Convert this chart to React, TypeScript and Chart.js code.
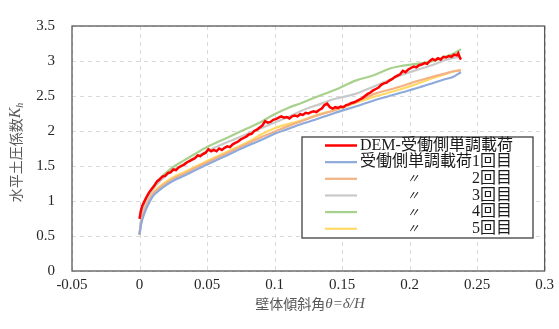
import React, { useEffect, useRef } from "react";
import { Chart, registerables } from "chart.js";

Chart.register(...registerables);

// ---- data ----
const demX = [0, 0.001, 0.002, 0.003, 0.005, 0.007, 0.009, 0.011, 0.013, 0.015, 0.017, 0.019, 0.021, 0.023, 0.025, 0.027, 0.029, 0.031, 0.033, 0.035, 0.037, 0.039, 0.041, 0.043, 0.045, 0.047, 0.049, 0.051, 0.053, 0.055, 0.057, 0.059, 0.061, 0.063, 0.065, 0.067, 0.069, 0.071, 0.073, 0.075, 0.077, 0.079, 0.081, 0.083, 0.085, 0.087, 0.089, 0.091, 0.093, 0.095, 0.097, 0.099, 0.101, 0.103, 0.105, 0.107, 0.109, 0.111, 0.113, 0.115, 0.117, 0.119, 0.121, 0.123, 0.125, 0.127, 0.129, 0.131, 0.133, 0.135, 0.137, 0.139, 0.141, 0.143, 0.145, 0.147, 0.149, 0.151, 0.153, 0.155, 0.157, 0.159, 0.161, 0.163, 0.165, 0.167, 0.169, 0.171, 0.173, 0.175, 0.177, 0.179, 0.181, 0.183, 0.185, 0.187, 0.189, 0.191, 0.193, 0.195, 0.197, 0.199, 0.201, 0.203, 0.205, 0.207, 0.209, 0.211, 0.213, 0.215, 0.217, 0.219, 0.221, 0.223, 0.225, 0.227, 0.229, 0.231, 0.233, 0.235, 0.236, 0.237, 0.238];
const demY = [0.745, 0.86, 0.93, 0.97, 1.05, 1.12, 1.17, 1.22, 1.28, 1.31, 1.35, 1.36, 1.40, 1.41, 1.45, 1.44, 1.48, 1.50, 1.52, 1.55, 1.57, 1.59, 1.61, 1.65, 1.64, 1.67, 1.69, 1.74, 1.71, 1.73, 1.71, 1.75, 1.73, 1.76, 1.78, 1.77, 1.81, 1.83, 1.85, 1.88, 1.90, 1.92, 1.95, 1.96, 2.00, 2.02, 2.05, 2.08, 2.14, 2.12, 2.13, 2.16, 2.17, 2.19, 2.21, 2.19, 2.20, 2.18, 2.21, 2.22, 2.21, 2.24, 2.23, 2.26, 2.25, 2.27, 2.28, 2.27, 2.30, 2.32, 2.37, 2.39, 2.34, 2.32, 2.34, 2.33, 2.35, 2.34, 2.37, 2.38, 2.40, 2.41, 2.43, 2.45, 2.47, 2.50, 2.53, 2.55, 2.58, 2.60, 2.62, 2.66, 2.68, 2.69, 2.72, 2.74, 2.77, 2.79, 2.81, 2.86, 2.84, 2.88, 2.90, 2.92, 2.91, 2.94, 2.95, 2.97, 2.96, 3.00, 3.03, 3.01, 3.04, 3.02, 3.06, 3.05, 3.07, 3.06, 3.09, 3.08, 3.11, 3.06, 3.02];

const expX = [0, 0.001, 0.003, 0.006, 0.010, 0.015, 0.020, 0.026, 0.033, 0.040, 0.050, 0.060, 0.070, 0.080, 0.090, 0.100, 0.110, 0.120, 0.130, 0.145, 0.160, 0.174, 0.185, 0.194, 0.205, 0.218, 0.226, 0.232, 0.238];
const run1Y = [0.52, 0.65, 0.79, 0.93, 1.07, 1.16, 1.23, 1.30, 1.36, 1.43, 1.52, 1.61, 1.70, 1.79, 1.87, 1.96, 2.03, 2.10, 2.16, 2.26, 2.35, 2.44, 2.50, 2.55, 2.61, 2.69, 2.74, 2.77, 2.84];
const run2Y = [0.52, 0.67, 0.82, 0.96, 1.10, 1.19, 1.26, 1.33, 1.39, 1.46, 1.55, 1.64, 1.73, 1.82, 1.91, 1.99, 2.07, 2.14, 2.21, 2.30, 2.41, 2.53, 2.59, 2.64, 2.71, 2.78, 2.82, 2.85, 2.87];
const run3Y = [0.52, 0.70, 0.88, 1.03, 1.17, 1.28, 1.37, 1.45, 1.53, 1.61, 1.71, 1.80, 1.88, 1.96, 2.04, 2.12, 2.20, 2.29, 2.36, 2.46, 2.53, 2.64, 2.73, 2.80, 2.87, 2.95, 3.01, 3.04, 3.06];
const run4Y = [0.52, 0.71, 0.90, 1.06, 1.20, 1.32, 1.41, 1.50, 1.58, 1.66, 1.77, 1.86, 1.95, 2.04, 2.13, 2.24, 2.33, 2.40, 2.48, 2.59, 2.72, 2.80, 2.89, 2.93, 2.96, 3.00, 3.06, 3.10, 3.17];
const run5Y = [0.52, 0.68, 0.84, 0.98, 1.12, 1.21, 1.28, 1.35, 1.41, 1.48, 1.57, 1.66, 1.75, 1.84, 1.95, 2.04, 2.10, 2.15, 2.22, 2.30, 2.40, 2.49, 2.55, 2.60, 2.67, 2.76, 2.81, 2.85, 2.87];

const seriesNames = ["DEM-受働側単調載荷", "受働側単調載荷1回目", "2回目", "3回目", "4回目", "5回目"];
const dittoMark = "〃";
const xTitleMain = "壁体傾斜角";
const xTitleItalic = "θ=δ/H";
const yTitleMain = "水平土圧係数";
const yTitleItalic = "K";
const yTitleSub = "h";

const colors = ["#ff0000", "#8eaadb", "#f4b183", "#c9c9c9", "#a9d18e", "#ffd966"];

const SERIF = '"Liberation Serif", "Noto Sans CJK JP", serif';
const CJK = '"Noto Sans CJK JP", sans-serif';

const toPts = (xs: number[], ys: number[]) => xs.map((x, i) => ({ x, y: ys[i] }));

const gridPlugin = {
  id: "dashGrid",
  beforeDatasetsDraw(chart: any) {
    const { ctx, chartArea: a, scales } = chart;
    ctx.save();
    ctx.strokeStyle = "#d9d9d9";
    ctx.lineWidth = 1;
    ctx.setLineDash([4, 4]);
    scales.x.ticks.forEach((t: any) => {
      const px = Math.round(scales.x.getPixelForValue(t.value)) + 0.5;
      ctx.beginPath();
      ctx.moveTo(px, a.top);
      ctx.lineTo(px, a.bottom);
      ctx.stroke();
    });
    scales.y.ticks.forEach((t: any) => {
      const py = Math.round(scales.y.getPixelForValue(t.value)) + 0.5;
      ctx.beginPath();
      ctx.moveTo(a.left, py);
      ctx.lineTo(a.right, py);
      ctx.stroke();
    });
    ctx.restore();
  },
};

const framePlugin = {
  id: "frame",
  afterDatasetsDraw(chart: any) {
    const { ctx, chartArea: a } = chart;
    ctx.save();
    ctx.strokeStyle = "#595959";
    ctx.lineWidth = 1.3;
    ctx.strokeRect(a.left, a.top, a.right - a.left, a.bottom - a.top);
    ctx.restore();
  },
};

const titlesPlugin = {
  id: "axisTitles",
  afterDraw(chart: any) {
    const { ctx, chartArea: a } = chart;
    ctx.save();
    ctx.fillStyle = "#595959";
    ctx.textBaseline = "middle";
    const mainFont = `14px ${CJK}`;
    const itFont = `italic 15px ${SERIF}`;
    ctx.font = mainFont;
    const w1 = ctx.measureText(xTitleMain).width;
    ctx.font = itFont;
    const w2 = ctx.measureText(xTitleItalic).width;
    const cx = 310;
    const ty = 304;
    const x0 = cx - (w1 + w2) / 2;
    ctx.textAlign = "left";
    ctx.font = mainFont;
    ctx.fillText(xTitleMain, x0, ty);
    ctx.font = itFont;
    ctx.fillText(xTitleItalic, x0 + w1, ty);
    ctx.translate(16, (a.top + a.bottom) / 2 + 4);
    ctx.rotate(-Math.PI / 2);
    ctx.font = mainFont;
    const y1 = ctx.measureText(yTitleMain).width;
    ctx.font = `italic 16px ${SERIF}`;
    const y2 = ctx.measureText(yTitleItalic).width;
    ctx.font = `italic 10px ${SERIF}`;
    const y3 = ctx.measureText(yTitleSub).width;
    const s = -(y1 + y2 + y3) / 2;
    ctx.font = mainFont;
    ctx.fillText(yTitleMain, s, 0);
    ctx.font = `italic 16px ${SERIF}`;
    ctx.fillText(yTitleItalic, s + y1, 0);
    ctx.font = `italic 10px ${SERIF}`;
    ctx.fillText(yTitleSub, s + y1 + y2, 4);
    ctx.restore();
  },
};

const legendPlugin = {
  id: "boxLegend",
  afterDraw(chart: any) {
    const { ctx } = chart;
    const bx = 302, by = 137, bw = 231, bh = 101;
    ctx.save();
    ctx.fillStyle = "#ffffff";
    ctx.fillRect(bx, by, bw, bh);
    ctx.strokeStyle = "#404040";
    ctx.lineWidth = 1.3;
    ctx.strokeRect(bx, by, bw, bh);
    const rowY0 = 145.5;
    const rowH = 16.65;
    const font = `16px ${SERIF}`;
    ctx.font = font;
    const textX = 360;
    const row2W = ctx.measureText(seriesNames[1]).width;
    chart.data.datasets.forEach((ds: any, i: number) => {
      const y = rowY0 + i * rowH;
      ctx.strokeStyle = ds.borderColor;
      ctx.lineWidth = i === 0 ? 2.5 : 2.2;
      ctx.beginPath();
      ctx.moveTo(325, y);
      ctx.lineTo(357, y);
      ctx.stroke();
      ctx.fillStyle = "#1a1a1a";
      ctx.textBaseline = "middle";
      ctx.font = font;
      if (i < 2) {
        ctx.textAlign = "left";
        ctx.fillText(seriesNames[i], textX, y);
      } else {
        ctx.textAlign = "center";
        ctx.font = `italic 13px ${SERIF}`;
        ctx.fillText(dittoMark, 413, y + 1);
        ctx.font = font;
        ctx.textAlign = "right";
        ctx.fillText(seriesNames[i], textX + row2W, y);
      }
    });
    ctx.restore();
  },
};

export default function App() {
  const ref = useRef<HTMLCanvasElement | null>(null);
  useEffect(() => {
    if (!ref.current) return;
    const ys = [run1Y, run2Y, run3Y, run4Y, run5Y];
    const datasets: any[] = [
      {
        label: seriesNames[0],
        data: toPts(demX, demY),
        borderColor: colors[0],
        borderWidth: 2.5,
      },
      ...ys.map((y, i) => ({
        label: i === 0 ? seriesNames[1] : dittoMark + " " + seriesNames[i + 1],
        data: toPts(expX, y),
        borderColor: colors[i + 1],
        borderWidth: 2.2,
        cubicInterpolationMode: "monotone",
      })),
    ].map((d) => ({ ...d, pointRadius: 0, fill: false, tension: 0 }));
    const tickFont = { family: SERIF, size: 15 };
    const chart = new Chart(ref.current, {
      type: "line",
      data: { datasets },
      options: {
        animation: false,
        responsive: true,
        maintainAspectRatio: false,
        layout: { padding: { left: 0, right: 12, top: 16, bottom: 0 } },
        plugins: { legend: { display: false }, tooltip: { enabled: false } },
        scales: {
          x: {
            type: "linear",
            min: -0.05,
            max: 0.3,
            ticks: {
              stepSize: 0.05,
              autoSkip: false,
              maxRotation: 0,
              font: tickFont,
              color: "#262626",
              padding: 5,
              callback: (v: any) => String(Number(Number(v).toFixed(2))),
            },
            grid: { display: false, drawTicks: false },
            border: { display: false },
            afterFit: (s: any) => {
              s.height = 58;
            },
          },
          y: {
            type: "linear",
            min: 0,
            max: 3.5,
            ticks: {
              stepSize: 0.5,
              font: tickFont,
              color: "#262626",
              padding: 17,
              callback: (v: any) => String(Number(Number(v).toFixed(1))),
            },
            grid: { display: false, drawTicks: false },
            border: { display: false },
            afterFit: (s: any) => {
              s.width = 72;
            },
          },
        },
      } as any,
      plugins: [gridPlugin, framePlugin, titlesPlugin, legendPlugin],
    });
    return () => chart.destroy();
  }, []);
  return (
    <div style={{ position: "absolute", left: 0, top: 0, width: 559, height: 329, background: "#fff" }}>
      <canvas ref={ref} />
    </div>
  );
}
